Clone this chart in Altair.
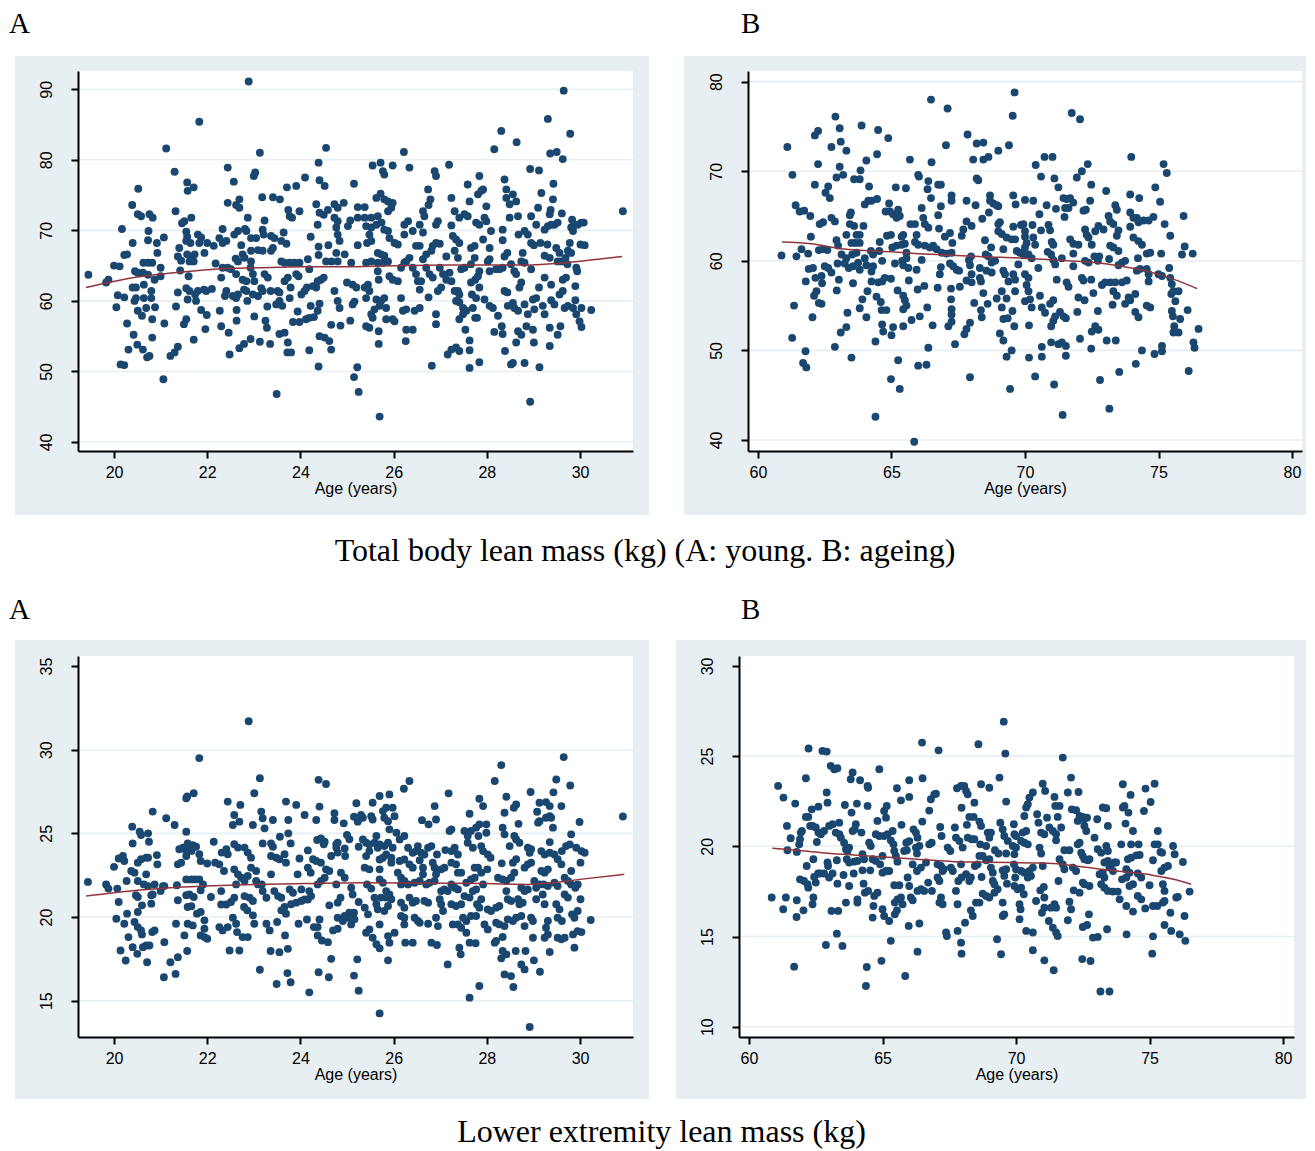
import altair as alt
import pandas as pd

# ---------------- data ----------------
young_total = [
(19.45,63.7),(19.83,62.6),(19.88,63.0),(20.0,65.0),(20.12,64.9),(20.05,59.1),(20.08,60.8),(20.22,60.5),(20.17,70.2),(20.22,66.5),(20.28,66.6),(20.14,51.0),(20.22,50.9),(20.28,56.8),(20.31,53.1),(20.39,73.6),(20.4,68.2),(20.4,61.9),(20.47,61.9),(20.42,55.2),(20.45,64.2),(20.51,64.0),(20.62,64.0),(20.44,60.0),(20.47,60.4),(20.5,53.8),(20.52,75.9),(20.51,72.3),(20.58,72.0),(20.51,58.6),(20.6,57.9),(20.62,53.1),(20.63,65.4),(20.73,65.4),(20.82,65.4),(20.64,62.3),(20.73,63.7),(20.64,60.4),(20.8,60.4),(20.69,59.0),(20.71,52.0),(20.76,52.2),(20.74,69.9),(20.73,68.6),(20.76,72.3),(20.83,71.8),(20.8,61.4),(20.82,57.4),(20.82,54.8),(20.87,63.0),(20.88,59.1),(20.92,68.2),(20.93,66.8),(21.0,64.7),(21.0,63.5),(21.07,69.0),(21.08,56.8),(21.06,48.9),(21.12,81.6),(21.21,52.2),(21.3,52.7),(21.37,53.5),(21.3,78.3),(21.32,72.7),(21.37,61.2),(21.33,59.2),(21.37,66.3),(21.44,65.7),(21.42,64.3),(21.46,71.0),(21.51,71.3),(21.4,67.5),(21.5,56.7),(21.55,57.4),(21.55,69.8),(21.57,69.1),(21.57,76.8),(21.58,75.6),(21.55,68.5),(21.64,68.2),(21.57,66.6),(21.66,66.1),(21.62,65.6),(21.6,63.5),(21.55,61.8),(21.62,61.4),(21.58,60.2),(21.71,76.1),(21.66,71.8),(21.73,66.6),(21.71,65.6),(21.71,54.5),(21.74,60.9),(21.8,61.4),(21.76,60.0),(21.83,85.4),(21.8,69.4),(21.87,69.0),(21.83,68.2),(21.87,58.7),(21.93,61.6),(21.98,61.4),(21.94,66.8),(21.96,56.0),(22.0,68.2),(21.99,58.0),(22.1,61.7),(22.14,67.8),(22.18,65.3),(22.26,68.9),(22.33,68.2),(22.41,68.5),(22.27,58.6),(22.3,56.4),(22.3,63.3),(22.33,64.7),(22.33,70.2),(22.38,60.7),(22.41,61.4),(22.44,78.9),(22.44,73.9),(22.44,64.7),(22.51,64.5),(22.46,55.5),(22.48,52.4),(22.57,76.9),(22.55,60.7),(22.62,60.4),(22.66,60.9),(22.58,69.4),(22.66,69.9),(22.61,66.0),(22.66,65.6),(22.62,63.8),(22.63,58.7),(22.63,57.2),(22.62,73.6),(22.69,73.2),(22.69,74.4),(22.69,53.3),(22.79,53.9),(22.73,67.9),(22.76,66.6),(22.8,66.1),(22.76,63.0),(22.84,62.8),(22.79,61.6),(22.84,61.4),(22.81,70.2),(22.84,69.9),(22.86,60.0),(22.87,71.8),(22.89,91.1),(22.93,54.6),(22.94,68.9),(23.05,68.9),(22.94,65.6),(22.93,64.7),(22.98,63.8),(23.01,62.8),(23.0,77.7),(23.03,78.2),(23.01,57.8),(22.98,60.9),(23.09,60.7),(22.94,67.1),(23.09,67.2),(23.19,67.1),(23.13,81.0),(23.13,54.2),(23.16,61.8),(23.19,61.4),(23.18,74.7),(23.19,70.1),(23.21,69.4),(23.23,71.4),(23.23,63.8),(23.3,63.3),(23.29,59.2),(23.25,57.2),(23.28,56.2),(23.35,53.9),(23.36,61.4),(23.37,69.2),(23.44,68.9),(23.37,67.1),(23.41,67.5),(23.41,74.7),(23.56,74.4),(23.48,59.5),(23.55,60.0),(23.61,59.3),(23.49,46.8),(23.51,61.4),(23.55,61.2),(23.55,55.3),(23.66,55.5),(23.59,65.6),(23.66,65.4),(23.77,65.4),(23.64,69.7),(23.59,68.5),(23.7,68.1),(23.66,62.8),(23.73,63.3),(23.73,54.1),(23.72,52.7),(23.8,52.7),(23.71,76.1),(23.74,72.9),(23.77,72.0),(23.82,71.8),(23.79,61.9),(23.77,60.4),(23.84,57.0),(23.98,57.0),(23.87,65.4),(23.98,65.4),(23.91,76.3),(23.91,63.8),(23.96,63.5),(23.94,58.5),(23.98,72.7),(24.02,60.9),(24.09,61.4),(24.14,61.9),(24.1,77.5),(24.12,57.4),(24.19,57.6),(24.29,57.7),(24.16,65.9),(24.19,64.5),(24.19,53.0),(24.22,69.1),(24.22,59.3),(24.27,62.1),(24.34,61.9),(24.37,62.8),(24.34,73.7),(24.41,72.5),(24.5,72.2),(24.37,70.8),(24.39,79.6),(24.41,77.1),(24.52,76.3),(24.39,67.7),(24.39,66.5),(24.41,59.6),(24.37,58.6),(24.39,50.7),(24.41,55.0),(24.52,54.8),(24.62,54.3),(24.44,63.0),(24.5,63.3),(24.55,81.7),(24.55,65.6),(24.67,65.6),(24.8,65.6),(24.6,67.9),(24.59,72.9),(24.73,73.7),(24.8,73.2),(24.66,53.1),(24.66,56.6),(24.86,56.5),(24.73,71.8),(24.8,71.3),(24.77,70.4),(24.8,69.4),(24.84,68.5),(24.73,61.4),(24.8,60.0),(24.84,59.0),(24.77,66.8),(24.95,66.6),(24.93,73.9),(25.02,70.6),(25.07,71.4),(25.09,65.4),(25.07,57.2),(25.0,62.6),(25.12,62.3),(25.15,76.6),(25.16,59.9),(25.12,59.5),(25.15,49.2),(25.22,50.6),(25.25,47.1),(25.23,73.3),(25.23,71.8),(25.23,67.9),(25.2,61.9),
(25.38,73.3),(25.41,70.6),(25.52,70.4),(25.48,69.4),(25.43,68.2),(25.52,68.5),(25.38,71.8),(25.52,71.8),(25.66,72.0),(25.41,65.4),(25.52,65.6),(25.66,66.8),(25.73,66.6),(25.8,66.4),(25.45,62.3),(25.38,61.9),(25.48,61.4),(25.41,60.4),(25.41,56.4),(25.48,56.2),(25.52,58.1),(25.59,58.8),(25.55,57.6),(25.55,79.2),(25.72,79.6),(25.77,78.4),(25.8,77.9),(25.63,74.6),(25.72,75.2),(25.8,74.4),(25.88,74.1),(25.63,70.8),(25.74,71.1),(25.8,70.1),(25.88,69.9),(25.66,65.4),(25.77,65.4),(25.88,65.6),(25.66,64.2),(25.68,63.0),(25.63,60.2),(25.73,60.0),(25.8,60.4),(25.84,59.0),(25.7,59.3),(25.68,55.7),(25.68,53.9),(25.7,43.6),(25.84,57.4),(25.98,57.4),(25.88,72.7),(25.95,73.2),(25.98,73.9),(25.91,68.9),(26.02,68.2),(26.09,68.0),(25.91,63.5),(25.98,63.0),(26.09,62.8),(25.98,79.2),(26.02,57.1),(26.16,64.7),(26.23,65.4),(26.16,60.4),(26.2,58.6),(26.27,58.8),(26.22,81.1),(26.23,70.8),(26.31,71.3),(26.23,69.4),(26.27,65.6),(26.34,66.1),(26.26,54.3),(26.34,78.9),(26.27,55.9),(26.41,55.9),(26.41,69.9),(26.48,67.8),(26.56,67.8),(26.41,64.7),(26.48,63.8),(26.52,62.8),(26.45,58.6),(26.56,59.0),(26.56,70.8),(26.63,69.7),(26.56,61.6),(26.59,62.8),(26.63,72.7),(26.66,72.0),(26.63,65.9),(26.7,66.6),(26.81,67.1),(26.7,64.7),(26.77,63.8),(26.84,63.3),(26.74,75.8),(26.79,74.4),(26.75,73.6),(26.75,60.5),(26.82,50.8),(26.84,67.8),(26.91,68.2),(26.99,68.1),(26.88,78.4),(26.91,77.7),(26.91,70.8),(26.95,71.3),(26.91,58.1),(26.91,56.7),(26.95,61.4),(27.02,61.9),(26.99,64.7),(27.06,63.8),(27.13,63.0),(27.13,66.3),(27.16,52.4),(27.19,79.3),(27.2,64.0),(27.24,62.8),(27.24,74.6),(27.24,70.7),(27.27,69.2),(27.34,68.7),(27.41,68.2),(27.31,72.7),(27.31,67.1),(27.38,66.1),(27.31,61.4),(27.38,61.4),(27.41,60.9),(27.34,60.0),(27.41,59.8),(27.24,53.1),(27.34,53.4),(27.41,52.9),(27.41,71.8),(27.52,72.3),(27.59,72.0),(27.45,64.5),(27.52,64.7),(27.41,57.4),(27.49,58.1),(27.49,59.0),(27.56,58.6),(27.54,55.9),(27.59,76.5),(27.63,74.1),(27.63,54.4),(27.63,53.0),(27.63,50.5),(27.66,67.5),(27.74,67.8),(27.66,65.2),(27.74,66.1),(27.66,62.6),(27.75,63.0),(27.68,60.9),(27.77,60.4),(27.7,59.0),(27.75,57.6),(27.79,57.6),(27.77,71.1),(27.84,70.8),(27.81,75.1),(27.88,75.6),(27.92,75.8),(27.84,77.7),(27.84,51.3),(27.84,64.2),(27.81,63.5),(27.84,61.9),(27.92,68.7),(27.95,71.8),(27.99,71.3),(27.95,60.2),(28.06,59.3),(28.13,59.0),(27.99,73.4),(28.02,65.6),(28.06,65.9),(28.06,67.5),(28.06,64.2),(28.09,69.9),(28.16,55.6),(28.16,81.5),(28.2,64.5),(28.27,64.5),(28.24,57.9),(28.31,84.1),(28.32,56.4),(28.34,70.1),(28.34,68.6),(28.34,64.7),(28.34,55.3),(28.38,77.2),(28.38,66.3),(28.44,66.8),(28.38,61.4),(28.44,61.2),(28.39,52.9),(28.42,74.6),(28.42,75.8),(28.45,59.3),(28.56,59.7),(28.49,71.8),(28.49,73.7),(28.56,75.1),(28.63,74.1),(28.52,51.0),(28.56,51.2),(28.52,65.2),(28.59,64.2),(28.63,63.8),(28.59,59.0),(28.67,58.6),(28.63,54.1),(28.64,82.5),(28.67,72.0),(28.67,55.7),(28.74,55.2),(28.68,69.4),(28.7,61.9),(28.74,62.6),(28.74,65.6),(28.81,65.4),(28.77,66.8),(28.81,69.9),(28.88,69.4),(28.81,51.2),(28.81,59.5),(28.85,56.4),(28.99,55.9),(28.88,58.1),(28.93,45.7),(28.93,78.7),(29.12,78.5),(28.95,72.0),(28.95,68.2),(29.01,67.9),(28.95,64.5),(28.99,60.2),(29.06,60.4),(29.01,54.1),(29.02,58.8),(29.06,70.8),(29.1,73.2),(29.12,61.9),(29.13,50.6),(29.15,68.2),(29.17,75.3),(29.2,59.3),(29.24,58.1),(29.24,63.3),(29.24,66.4),(29.35,66.1),(29.24,70.1),(29.31,70.6),(29.38,70.8),(29.3,68.0),(29.31,85.8),(29.35,72.3),(29.37,72.9),(29.35,56.2),(29.35,53.6),(29.36,80.9),(29.5,81.1),(29.38,60.1),(29.45,59.5),(29.38,62.3),(29.42,74.4),(29.43,76.6),(29.45,70.8),(29.52,71.1),(29.49,67.5),(29.56,66.8),(29.52,55.2),(29.52,65.6),(29.6,65.6),(29.56,60.9),(29.63,61.4),(29.58,56.4),(29.61,72.4),(29.63,80.1),(29.65,89.8),(29.63,63.0),(29.7,63.3),(29.67,59.0),(29.74,59.3),(29.69,66.1),(29.74,67.1),(29.73,65.2),(29.78,68.2),(29.79,83.7),(29.81,70.4),(29.85,69.9),(29.87,70.8),(29.83,71.5),(29.81,66.8),(29.85,59.0),(29.92,58.1),(29.99,57.1),(30.03,56.3),(29.9,62.1),(29.9,60.1),(29.92,64.7),(29.94,64.2),(29.95,70.8),(30.01,68.0),(30.1,67.9),(30.03,59.0),(30.03,71.1),(30.08,71.1),(30.24,58.7),(30.92,72.7),
]
young_total_fit = [(19.4,61.9),(19.8,62.5),(20.5,63.4),(21.3,64.0),(22.15,64.5),(23.1,64.7),(24.1,64.85),(25.1,64.85),(26.2,65.0),(27.2,65.1),(28.1,65.1),(28.95,65.1),(29.5,65.3),(29.95,65.6),(30.9,66.3)]

ageing_total = [
(60.88,60.6),(61.1,72.7),(61.29,69.6),(61.28,51.4),(61.35,55.0),(61.41,66.2),(61.44,60.5),(61.56,65.5),(61.73,65.6),(61.63,61.3),(61.78,49.9),(61.69,48.6),(61.81,48.1),(61.79,57.7),(61.88,60.8),(61.9,59.1),(62.06,59.2),(61.96,65.0),(61.98,62.7),(62.04,53.7),(62.1,56.1),(62.13,68.5),(62.13,74.0),(62.25,74.5),(62.19,56.6),(62.15,58.1),(62.38,58.3),(62.25,70.8),(62.28,61.2),(62.44,61.3),(62.6,61.2),(62.28,55.3),(62.38,55.2),(62.31,64.1),(62.44,64.3),(62.4,57.5),(62.5,59.4),(62.63,59.2),(62.75,58.7),(62.53,67.6),(62.63,68.3),(62.69,67.0),(62.75,72.7),(62.75,64.8),(62.88,64.4),(62.9,76.1),(62.88,50.4),(62.94,62.3),(63.0,61.7),(62.95,56.7),(62.98,59.7),(62.94,69.3),(63.03,57.9),(63.06,74.8),(63.1,73.3),(63.06,70.5),(63.13,60.7),(63.31,60.3),(63.19,69.6),(63.1,52.0),(63.31,52.6),(63.25,59.7),(63.4,59.2),(63.56,59.4),(63.31,72.3),(63.35,54.2),(63.31,62.9),(63.5,62.0),(63.65,62.0),(63.81,62.0),(63.44,65.1),(63.48,65.4),(63.44,64.1),(63.6,63.9),(63.5,49.2),(63.53,60.7),(63.69,60.9),(63.6,69.1),(63.81,69.1),(63.56,57.5),(63.69,62.9),(63.81,62.9),(63.75,59.8),(63.81,59.0),(63.81,54.7),(63.84,70.1),(63.88,75.1),(63.91,55.7),(63.95,63.9),(64.0,60.3),(64.06,59.5),(64.06,53.7),(64.06,71.2),(64.0,66.3),(64.13,66.7),(64.25,66.7),(64.1,56.6),(64.16,68.3),(64.23,61.1),(64.31,60.7),(64.25,58.8),(64.25,57.7),(64.31,59.4),(64.4,51.0),(64.4,42.6),(64.44,56.0),(64.6,55.4),(64.46,71.9),(64.5,74.6),(64.46,66.9),(64.56,62.1),(64.5,57.6),(64.65,57.7),(64.54,61.1),(64.65,60.0),(64.65,52.9),(64.69,52.1),(64.63,54.5),(64.81,54.5),(64.75,58.1),(64.78,65.5),(64.94,65.5),(65.06,65.2),(65.19,64.8),(64.83,62.8),(64.98,62.9),(64.88,73.7),(64.91,66.4),(64.98,46.8),(64.98,58.0),(65.03,61.5),(65.19,61.7),(65.0,51.7),(65.06,52.6),(65.13,59.7),(65.16,68.2),(65.25,65.7),(65.31,65.0),(65.23,56.7),(65.25,48.9),(65.31,45.7),(65.38,62.7),(65.44,62.9),(65.38,61.8),(65.5,61.9),(65.4,60.0),(65.44,59.5),(65.44,56.1),(65.5,55.6),(65.44,54.6),(65.56,55.0),(65.44,52.7),(65.54,68.1),(65.56,60.9),(65.56,60.3),(65.63,59.2),(65.65,57.8),(65.69,71.3),(65.71,64.1),(65.88,64.1),(65.75,53.4),(65.85,39.8),(65.88,62.1),(66.0,61.8),(65.94,62.9),(65.94,59.0),(65.98,56.8),(66.0,69.6),(66.03,69.4),(66.0,48.3),(66.06,53.8),(66.13,65.9),(66.13,60.1),(66.19,64.8),(66.23,57.2),(66.25,64.1),(66.38,63.7),(66.25,61.7),(66.44,61.5),(66.31,48.4),(66.34,54.8),(66.35,68.0),(66.38,68.9),(66.38,50.3),(66.48,78.0),(66.48,67.0),(66.5,71.0),(66.54,52.8),(66.56,61.7),(66.69,61.3),(66.73,57.0),(66.75,68.5),(66.85,68.5),(66.75,65.1),(66.78,63.6),(66.81,58.5),(66.85,59.3),(66.85,66.1),(66.88,60.9),(67.06,60.8),(67.25,60.9),(67.0,62.7),(67.19,63.1),(67.04,72.9),(67.1,77.0),(67.13,52.7),(67.19,59.7),(67.31,59.4),(67.23,56.9),(67.25,67.3),(67.25,66.7),(67.25,54.6),(67.25,54.0),(67.23,55.7),(67.25,53.2),(67.28,62.0),(67.38,50.7),(67.44,59.0),(67.53,58.9),(67.56,57.1),(67.63,62.8),(67.69,63.5),(67.81,64.4),(67.73,51.8),(67.81,52.4),(67.81,66.7),(67.81,57.8),(67.85,74.1),(67.9,60.1),(67.94,59.5),(67.94,53.1),(67.94,47.0),(67.98,60.5),(68.0,58.5),(68.0,57.6),(68.0,63.9),(68.06,71.3),(68.1,55.3),(68.15,66.2),(68.19,73.1),(68.44,73.2),(68.19,69.2),(68.25,69.0),(68.31,59.2),(68.31,58.1),(68.35,57.7),(68.35,54.5),(68.38,53.7),(68.4,64.7),(68.44,71.3),(68.63,71.6),(68.44,56.4),(68.5,62.3),(68.53,60.7),(68.63,60.5),(68.56,58.9),(68.75,58.7),(68.6,55.2),(68.65,65.4),(68.69,67.3),(68.69,66.7),(68.81,66.4),(68.73,61.5),(68.75,59.8),(68.88,60.0),(68.94,55.8),(69.13,56.6),(68.94,66.2),(69.0,66.1),(69.0,72.3),(69.0,64.1),(69.06,64.3),(69.0,63.3),(69.13,63.0),(69.06,51.9),(69.19,51.1),(69.13,54.8),(69.19,53.5),(69.19,58.9),(69.25,58.5),(69.38,57.7),(69.19,61.3),(69.31,62.6),(69.31,55.8),(69.31,49.3),(69.35,53.6),(69.4,72.9),(69.44,45.7),(69.5,62.4),(69.63,62.4),(69.5,50.0),(69.53,54.4),(69.56,58.5),(69.63,57.9),(69.56,67.3),(69.54,76.2),(69.61,78.8),(69.6,52.7),(69.63,56.6),(69.65,66.3),(69.56,63.8),(69.69,61.1),(69.81,60.9),(69.75,59.6),(69.85,64.0),
(70.0,66.8),(70.31,66.7),(69.94,64.1),(70.0,63.3),(70.0,62.7),(70.06,62.0),(70.0,61.5),(69.94,60.7),(70.13,60.7),(70.25,60.3),(70.0,58.5),(70.13,58.1),(70.06,57.3),(70.13,56.6),(70.0,55.5),(70.19,55.7),(70.25,54.8),(70.15,52.8),(70.15,49.2),(70.28,64.0),(70.31,62.6),(70.38,61.8),(70.38,47.1),(70.4,70.7),(70.5,59.2),(70.54,65.2),(70.56,56.1),(70.6,63.4),(70.6,69.4),(70.63,54.8),(70.75,54.2),(70.63,50.4),(70.63,49.3),(70.73,71.6),(71.03,71.6),(70.81,66.2),(70.85,61.0),(70.98,60.7),(70.88,64.0),(70.94,63.4),(70.94,55.2),(71.06,55.6),(70.98,52.7),(71.06,53.3),(71.13,53.8),(71.0,62.1),(71.06,61.8),(70.98,50.9),(71.06,60.1),(71.13,59.6),(71.09,46.2),(71.1,69.2),(71.16,65.8),(71.19,57.9),(71.25,68.2),(71.25,50.7),(71.38,50.9),(71.53,50.5),(71.31,54.3),(71.44,53.8),(71.53,53.6),(71.38,60.3),(71.41,42.8),(71.44,67.0),(71.56,66.9),(71.69,67.0),(71.81,66.5),(71.5,65.9),(71.63,65.9),(71.48,64.9),(71.53,49.4),(71.56,57.6),(71.63,57.1),(71.69,62.4),(71.81,61.9),(72.0,61.8),(71.75,76.5),(71.81,60.8),(71.81,59.4),(71.94,69.3),(71.96,54.3),(72.0,55.9),(72.23,55.6),(72.06,75.8),(72.06,51.3),(72.13,70.0),(72.13,58.1),(72.19,57.8),(72.19,65.6),(72.28,65.7),(72.25,63.5),(72.31,62.9),(72.38,62.6),(72.5,61.8),(72.25,60.0),(72.38,59.8),(72.35,70.8),(72.44,66.7),(72.48,68.5),(72.48,57.9),(72.48,50.2),(72.56,56.4),(72.5,52.1),(72.63,52.7),(72.75,52.3),(72.6,60.5),(72.78,60.5),(72.73,60.0),(72.63,63.3),(72.75,63.9),(72.94,63.5),(72.73,54.4),(72.81,46.7),(72.88,57.3),(73.0,57.6),(73.19,57.6),(73.38,57.6),(73.04,67.8),(73.06,51.1),(73.4,51.1),(73.13,65.0),(73.19,64.4),(73.31,64.1),(73.16,43.5),(73.19,61.7),(73.31,61.5),(73.5,61.1),(73.15,60.2),(73.31,56.6),(73.44,56.1),(73.28,55.1),(73.38,66.2),(73.44,65.7),(73.44,62.8),(73.5,63.4),(73.5,59.5),(73.63,59.8),(73.75,60.0),(73.53,47.6),(73.63,57.6),(73.81,57.8),(73.75,55.2),(73.94,55.6),(73.88,55.9),(73.94,67.4),(73.94,65.4),(74.06,64.8),(74.19,64.8),(74.25,64.3),(74.44,64.5),(73.94,63.8),(73.98,71.6),(74.06,62.6),(74.25,62.2),(74.38,61.8),(74.13,56.3),(74.13,54.3),(74.15,48.5),(74.19,58.9),(74.31,59.1),(74.23,60.3),(74.25,53.7),(74.28,67.0),(74.38,50.0),(74.56,60.8),(74.69,60.9),(74.56,55.0),(74.69,54.8),(74.56,59.1),(74.63,58.5),(74.63,57.7),(74.63,64.5),(74.81,64.9),(74.85,49.6),(74.88,68.2),(75.0,58.5),(75.13,58.3),(75.06,66.6),(75.1,60.8),(75.13,50.5),(75.13,49.9),(75.19,70.8),(75.23,64.1),(75.31,69.8),(75.4,59.2),(75.44,62.8),(75.44,58.1),(75.5,57.4),(75.48,56.3),(75.5,54.4),(75.54,53.8),(75.56,56.6),(75.63,55.5),(75.59,52.7),(75.56,52.0),(75.75,52.0),(75.75,56.6),(75.81,53.5),(75.88,60.7),(75.98,61.6),(75.94,65.0),(76.09,54.5),(76.13,47.7),(76.28,60.8),(76.31,50.9),(76.35,50.3),(76.5,52.4),
]
ageing_total_fit = [(60.9,62.1),(62.0,61.9),(63.1,61.35),(64.0,61.15),(65.0,61.0),(66.0,60.8),(67.0,60.65),(68.5,60.45),(69.9,60.3),(70.7,60.17),(71.6,60.0),(72.6,59.8),(73.6,59.4),(74.5,58.9),(75.1,58.4),(75.6,57.9),(76.45,56.9)]

young_lower = [
(19.44,22.1),(19.83,21.95),(19.88,21.7),(20.0,23.0),(20.05,19.9),(20.07,21.7),(20.1,20.9),(20.1,23.5),(20.19,23.65),(20.14,18.0),(20.22,23.35),(20.22,19.6),(20.25,17.4),(20.27,22.15),(20.28,20.2),(20.31,18.8),(20.37,22.75),(20.44,22.65),(20.39,25.4),(20.4,24.4),(20.4,18.2),(20.44,19.7),(20.51,19.4),(20.58,19.2),(20.47,21.3),(20.51,21.2),(20.5,17.8),(20.51,22.15),(20.51,23.25),(20.58,23.45),(20.69,23.55),(20.73,23.55),(20.51,20.3),(20.55,25.1),(20.58,24.9),(20.62,18.2),(20.69,18.3),(20.76,18.3),(20.64,21.95),(20.73,21.85),(20.6,20.7),(20.6,18.96),(20.69,22.55),(20.71,17.3),(20.73,25.0),(20.75,24.5),(20.8,21.3),(20.83,21.35),(20.8,20.8),(20.82,19.1),(20.87,19.2),(20.83,26.3),(20.87,21.95),(20.92,23.7),(20.93,23.15),(21.0,21.55),(21.05,21.85),(21.08,21.85),(21.07,16.4),(21.08,18.5),(21.12,25.9),(21.21,17.3),(21.3,25.5),(21.32,16.6),(21.33,19.6),(21.35,21.9),(21.37,21.0),(21.37,17.6),(21.37,23.15),(21.44,23.25),(21.4,24.05),(21.48,24.15),(21.55,23.95),(21.51,18.9),(21.55,25.1),(21.55,23.65),(21.57,17.97),(21.55,22.25),(21.66,22.25),(21.74,22.25),(21.83,22.25),(21.55,27.1),(21.57,27.2),(21.55,21.3),(21.62,21.35),(21.71,21.2),(21.58,20.6),(21.66,20.65),(21.58,24.4),(21.69,24.3),(21.76,24.2),(21.58,19.6),(21.69,19.5),(21.62,24.1),(21.66,23.95),(21.71,27.4),(21.83,29.5),(21.78,20.2),(21.86,20.3),(21.83,23.75),(21.86,23.35),(21.86,21.6),(21.86,18.9),(21.94,18.8),(22.0,18.7),(21.91,21.95),(21.94,19.8),(21.94,19.3),(22.0,23.2),(22.08,21.2),(22.14,24.5),(22.17,23.25),(22.26,23.15),(22.26,19.4),(22.33,19.2),(22.44,19.4),(22.3,21.55),(22.3,20.75),(22.41,20.75),(22.31,23.85),(22.41,24.05),(22.44,23.75),(22.36,22.75),(22.44,26.9),(22.48,18.0),(22.69,18.0),(22.51,20.9),(22.58,21.15),(22.55,19.96),(22.62,19.6),(22.64,19.1),(22.55,25.5),(22.58,26.1),(22.69,25.7),(22.58,24.35),(22.66,24.15),(22.58,22.85),(22.66,22.55),(22.62,21.95),(22.71,26.7),(22.73,22.35),(22.8,22.15),(22.87,22.45),(22.76,18.8),(22.87,18.8),(22.79,20.6),(22.86,20.4),(22.8,24.15),(22.87,23.85),(22.94,23.55),(22.8,21.25),(22.91,21.15),(22.89,31.7),(22.94,22.95),(23.05,22.75),(22.98,25.5),(22.98,20.1),(23.01,19.6),(22.98,20.96),(23.01,27.4),(23.05,22.15),(23.09,21.95),(23.13,28.3),(23.13,16.85),(23.16,26.3),(23.19,25.9),(23.17,21.95),(23.19,21.55),(23.27,21.15),(23.19,24.4),(23.23,25.3),(23.27,19.6),(23.34,19.2),(23.36,17.97),(23.37,24.4),(23.41,24.2),(23.37,23.65),(23.48,23.55),(23.55,23.45),(23.37,22.55),(23.41,25.8),(23.44,21.55),(23.52,21.25),(23.59,21.15),(23.5,19.7),(23.49,16.0),(23.55,17.9),(23.56,24.8),(23.59,20.4),(23.66,20.6),(23.69,20.2),(23.66,23.75),(23.69,23.25),(23.67,18.9),(23.69,26.9),(23.72,16.65),(23.73,18.1),(23.74,25.8),(23.74,25.0),(23.77,21.65),(23.84,21.45),(23.79,24.4),(23.79,16.1),(23.8,20.76),(23.91,26.7),(23.91,20.86),(24.02,20.96),(24.09,21.05),(24.16,21.05),(24.23,21.25),(23.94,22.55),(23.96,19.6),(23.98,23.5),(24.02,21.65),(24.09,26.1),(24.14,19.85),(24.16,23.98),(24.19,15.5),(24.19,21.55),(24.16,22.95),(24.22,22.65),(24.27,23.45),(24.34,23.35),(24.29,19.4),(24.34,25.8),(24.36,24.6),(24.44,24.7),(24.52,24.5),(24.37,18.9),(24.37,21.95),(24.44,22.15),(24.52,22.35),(24.39,16.7),(24.39,28.2),(24.55,27.95),(24.41,26.6),(24.41,19.85),(24.37,19.4),(24.44,23.25),(24.55,22.85),(24.62,22.75),(24.46,18.6),(24.59,18.5),(24.5,24.35),(24.61,16.4),(24.62,20.7),(24.66,17.5),(24.66,23.65),(24.77,24.15),(24.8,23.85),(24.7,19.2),(24.8,19.3),(24.73,26.2),(24.73,25.8),(24.77,21.95),(24.77,24.35),(24.8,24.45),(24.8,20.86),(24.86,21.15),(24.8,19.96),(24.91,19.76),(24.95,20.06),(25.02,19.96),(24.87,22.65),(24.95,22.35),(24.93,25.6),(24.95,24.1),(24.96,23.65),(25.0,24.9),(25.05,24.65),(25.05,20.26),(25.15,20.26),(25.09,21.75),(25.12,21.35),(25.09,19.56),(25.16,19.86),(25.15,26.0),(25.15,16.5),(25.2,26.8),(25.22,17.47),(25.23,25.7),(25.25,24.2),(25.25,15.6),(25.25,20.9),
(25.34,24.64),(25.41,24.44),(25.48,24.34),(25.59,24.44),(25.66,24.14),(25.41,23.64),(25.48,23.94),(25.38,22.95),(25.48,22.85),(25.43,21.95),(25.52,21.7),(25.38,20.56),(25.45,20.16),(25.41,19.06),(25.48,19.26),(25.55,18.76),(25.63,18.37),(25.7,18.13),(25.55,26.83),(25.52,26.03),(25.55,25.83),(25.34,25.93),(25.3,26.1),(25.63,24.84),(25.7,24.34),(25.59,21.16),(25.63,20.76),(25.66,20.46),(25.7,23.44),(25.77,23.54),(25.7,22.85),(25.7,14.24),(25.7,27.23),(25.7,22.25),(25.77,22.05),(25.7,19.56),(25.73,21.16),(25.84,21.16),(25.95,21.06),(25.77,26.33),(25.84,26.53),(25.91,27.33),(25.8,25.93),(25.88,25.73),(25.91,25.24),(25.8,24.24),(25.88,24.44),(25.98,24.14),(25.84,23.74),(25.95,23.54),(25.95,23.25),(25.84,21.55),(25.91,21.35),(25.8,20.36),(25.88,20.66),(25.88,18.86),(25.91,18.47),(25.88,17.41),(25.98,26.53),(26.02,26.03),(26.02,19.06),(26.06,25.04),(26.13,24.64),(26.23,24.84),(26.09,22.65),(26.16,22.35),(26.23,22.15),(26.13,23.35),(26.23,23.44),(26.16,21.95),(26.31,21.95),(26.16,20.86),(26.23,20.56),(26.16,20.06),(26.23,19.96),(26.22,27.67),(26.23,19.56),(26.25,18.47),(26.41,18.47),(26.34,28.13),(26.31,24.14),(26.41,23.84),(26.48,23.94),(26.34,23.15),(26.41,22.95),(26.34,21.16),(26.41,20.86),(26.48,20.96),(26.45,22.05),(26.56,22.15),(26.45,19.96),(26.52,19.76),(26.56,19.66),(26.52,24.24),(26.59,23.84),(26.66,23.74),(26.56,23.39),(26.63,22.95),(26.61,25.79),(26.63,22.55),(26.66,20.96),(26.74,20.86),(26.7,21.95),(26.77,22.05),(26.74,24.14),(26.81,24.24),(26.75,25.54),(26.74,19.6),(26.81,18.47),(26.93,18.33),(26.84,23.25),(26.88,22.95),(26.91,22.55),(26.88,26.63),(26.88,22.15),(26.91,25.83),(26.91,19.96),(26.95,19.46),(26.93,23.74),(26.99,21.06),(27.02,20.76),(27.06,20.36),(27.02,22.85),(27.09,22.95),(27.02,21.55),(27.09,21.65),(27.16,21.55),(27.11,24.0),(27.16,17.17),(27.18,27.39),(27.2,25.14),(27.24,25.24),(27.24,23.25),(27.34,23.15),(27.24,23.94),(27.31,24.14),(27.38,23.74),(27.24,21.95),(27.31,21.75),(27.38,21.65),(27.24,20.76),(27.34,20.66),(27.45,20.76),(27.27,19.56),(27.38,19.56),(27.45,19.36),(27.41,18.17),(27.44,17.77),(27.38,22.65),(27.45,22.65),(27.49,19.96),(27.56,19.76),(27.56,19.06),(27.52,25.14),(27.59,24.84),(27.59,24.44),(27.52,21.25),(27.63,21.16),(27.56,22.05),(27.66,22.25),(27.74,22.35),(27.63,26.17),(27.63,15.18),(27.63,18.47),(27.76,18.43),(27.66,25.14),(27.7,24.14),(27.66,20.06),(27.77,20.06),(27.7,21.55),(27.77,21.65),(27.74,22.95),(27.81,22.95),(27.88,22.65),(27.77,25.34),(27.84,25.54),(27.82,24.84),(27.79,20.76),(27.84,20.56),(27.84,15.88),(27.84,27.07),(27.92,26.63),(27.88,24.24),(27.92,23.94),(27.92,21.95),(27.88,21.06),(27.95,19.56),(27.99,25.54),(27.99,25.04),(28.01,22.85),(28.02,23.74),(28.08,23.54),(28.02,20.46),(28.09,20.36),(28.2,20.56),(28.27,20.66),(28.02,19.26),(28.17,18.47),(28.2,18.57),(28.17,28.13),(28.2,19.66),(28.27,19.56),(28.38,19.46),(28.24,22.35),(28.34,22.25),(28.42,22.15),(28.31,29.08),(28.32,23.21),(28.34,25.34),(28.38,24.94),(28.34,18.81),(28.34,17.97),(28.42,17.77),(28.31,17.53),(28.38,16.57),(28.52,16.47),(28.38,26.23),(28.42,21.55),(28.45,21.06),(28.52,20.96),(28.42,27.19),(28.45,19.86),(28.56,19.76),(28.63,19.96),(28.74,20.06),(28.49,24.24),(28.52,22.35),(28.59,22.65),(28.57,15.82),(28.56,23.25),(28.63,23.45),(28.58,26.53),(28.63,26.73),(28.59,24.84),(28.63,24.64),(28.7,24.44),(28.62,17.97),(28.67,21.06),(28.7,20.76),(28.77,20.86),(28.68,25.57),(28.74,21.75),(28.81,21.55),(28.88,21.65),(28.74,17.17),(28.81,16.87),(28.81,19.46),(28.81,22.95),(28.88,23.15),(28.95,23.25),(28.83,17.97),(28.88,24.14),(28.95,24.05),(28.92,23.84),(28.92,13.43),(28.94,27.47),(28.95,19.96),(28.99,19.76),(28.99,18.76),(29.01,17.41),(29.02,22.15),(29.06,21.75),(29.13,21.95),(29.06,21.06),(29.08,26.29),(29.1,25.64),(29.13,25.73),(29.13,26.83),(29.14,16.73),(29.17,23.94),(29.24,23.74),(29.35,23.84),(29.17,22.75),(29.24,22.65),(29.31,22.85),(29.2,21.35),(29.24,20.76),(29.22,21.95),(29.31,21.85),(29.24,18.76),(29.31,18.96),(29.27,19.36),(29.31,19.76),(29.27,25.93),(29.35,26.03),(29.38,25.93),(29.27,26.87),(29.35,26.63),(29.35,24.48),(29.35,17.91),(29.42,25.34),(29.43,27.45),(29.45,23.74),(29.52,23.45),(29.6,23.15),(29.45,22.05),(29.52,21.85),(29.49,28.22),(29.49,20.76),(29.56,20.46),(29.52,18.76),(29.6,18.67),(29.67,18.76),(29.52,19.96),(29.61,19.76),(29.61,23.94),(29.6,26.63),(29.65,29.56),(29.67,22.35),(29.74,22.15),(29.81,21.95),(29.67,21.35),(29.74,21.16),(29.7,24.24),(29.78,24.34),(29.79,27.86),(29.81,24.94),(29.81,22.75),(29.83,20.16),(29.88,19.96),(29.85,18.96),(29.95,19.16),(30.03,19.1),(29.88,18.17),(29.9,21.75),(29.95,21.95),(29.92,24.14),(30.03,23.94),(29.95,20.36),(29.99,25.68),(30.01,23.25),(30.01,21.06),(30.1,23.84),(30.23,19.82),(30.92,26.01),
]
young_lower_fit = [(19.4,21.25),(20.5,21.6),(21.2,21.75),(21.95,21.85),(23.0,21.95),(24.1,22.0),(25.3,22.05),(26.6,22.03),(28.0,22.0),(28.85,21.95),(29.4,22.05),(30.0,22.25),(30.95,22.55)]

ageing_lower = [
(60.85,17.16),(61.09,23.35),(61.28,16.51),(61.29,22.7),(61.38,17.16),(61.42,21.13),(61.44,19.78),(61.56,20.45),(61.69,13.33),(61.73,22.37),(61.78,16.08),(61.79,17.01),(61.79,19.69),(61.88,20.11),(61.91,20.39),(61.91,18.17),(61.94,20.76),(61.98,20.85),(62.04,16.45),(62.13,23.77),(62.13,21.63),(62.22,21.63),(62.06,18.08),(62.19,17.9),(62.22,17.71),(62.16,18.91),(62.23,25.42),(62.29,21.13),(62.38,21.13),(62.5,21.04),(62.35,22.05),(62.38,16.79),(62.41,17.16),(62.41,19.28),(62.44,18.3),(62.59,18.49),(62.5,17.99),(62.54,20.24),(62.6,20.76),(62.69,20.67),(62.81,20.85),(62.6,22.2),(62.66,18.49),(62.81,18.49),(62.75,25.29),(62.91,25.25),(62.88,14.53),(62.91,22.98),(62.94,22.42),(62.94,19.1),(62.96,18.91),(63.0,21.13),(63.13,21.22),(63.0,18.27),(63.13,18.49),(63.06,24.46),(63.19,24.27),(63.31,24.33),(63.09,16.42),(63.34,16.42),(63.25,20.76),(63.38,20.67),(63.29,19.23),(63.31,17.93),(63.29,15.16),(63.38,21.31),(63.44,20.48),(63.56,20.2),(63.5,14.48),(63.54,18.41),(63.63,16.88),(63.59,22.29),(63.63,19.84),(63.69,19.74),(63.75,19.93),(63.66,19.28),(63.75,19.1),(63.75,17.8),(63.81,23.72),(63.88,24.09),(63.84,21.87),(63.88,20.85),(63.96,20.94),(64.0,21.22),(63.92,18.49),(63.94,19.15),(64.06,19.19),(64.04,22.37),(64.06,17.06),(64.06,16.88),(64.16,23.66),(64.21,20.76),(64.25,19.56),(64.31,19.28),(64.25,18.67),(64.29,17.93),(64.34,17.43),(64.46,17.53),(64.38,12.26),(64.41,13.31),(64.44,23.35),(64.46,23.25),(64.44,22.24),(64.5,20.2),(64.56,20.02),(64.54,18.67),(64.63,19.28),(64.75,19.19),(64.63,16.05),(64.66,16.69),(64.69,17.25),(64.81,17.43),(64.75,20.67),(64.88,20.57),(64.81,21.41),(64.88,24.27),(64.91,19.0),(65.0,19.47),(64.96,13.65),(65.0,16.51),(65.0,18.54),(65.13,18.63),(65.06,21.96),(65.13,21.59),(65.06,16.14),(65.06,20.57),(65.19,20.67),(65.16,22.24),(65.25,18.63),(65.25,15.86),(65.31,14.76),(65.31,20.33),(65.41,20.11),(65.38,20.85),(65.44,19.74),(65.5,19.47),(65.44,17.84),(65.63,17.84),(65.46,16.23),(65.54,16.45),(65.46,16.88),(65.54,23.22),(65.56,17.06),(65.69,17.16),(65.56,19.15),(65.69,22.55),(65.71,21.19),(65.75,16.79),(65.81,19.74),(65.85,12.81),(65.89,20.2),(66.0,20.29),(65.91,19.78),(65.94,18.27),(65.98,15.59),(66.0,17.8),(66.0,23.66),(66.0,22.74),(66.06,17.16),(66.13,17.01),(66.13,19.0),(66.16,20.94),(66.25,20.76),(66.31,20.48),(66.25,19.93),(66.38,20.02),(66.29,19.6),(66.29,18.63),(66.31,17.53),(66.44,17.62),(66.56,17.53),(66.31,14.16),(66.38,15.72),(66.44,18.82),(66.48,25.75),(66.49,21.37),(66.5,23.77),(66.63,19.1),(66.71,17.99),(66.75,21.98),(66.75,20.11),(66.84,20.2),(66.81,22.61),(66.94,22.88),(66.85,17.53),(67.0,22.92),(67.06,19.0),(67.19,18.91),(67.25,18.63),(67.06,18.27),(67.13,18.08),(67.1,25.32),(67.13,16.88),(67.25,16.79),(67.16,21.07),(67.21,20.57),(67.19,17.16),(67.29,18.73),(67.38,15.22),(67.41,15.03),(67.44,19.93),(67.54,19.74),(67.56,18.82),(67.63,18.63),(67.71,21.04),(67.75,20.48),(67.88,20.29),(67.75,17.53),(67.79,23.22),(67.94,23.35),(67.81,16.79),(67.81,15.31),(67.84,18.08),(67.96,18.27),(67.94,19.0),(67.94,14.66),(67.96,14.05),(67.96,22.14),(68.0,19.93),(68.06,23.35),(68.13,23.07),(68.19,22.88),(68.09,15.77),(68.13,18.45),(68.16,21.19),(68.25,21.63),(68.19,20.48),(68.34,20.39),(68.44,20.39),(68.25,18.08),(68.31,18.27),(68.31,16.45),(68.38,16.14),(68.41,21.63),(68.44,22.42),(68.46,18.91),(68.56,19.0),(68.5,16.88),(68.63,16.88),(68.59,25.66),(68.63,19.47),(68.75,19.47),(68.63,21.37),(68.69,21.13),(68.66,20.11),(68.69,23.44),(68.71,18.3),(68.75,17.38),(68.88,17.25),(69.0,17.16),(68.88,20.02),(68.88,19.23),(69.0,19.28),(68.94,20.76),(69.06,20.76),(69.0,20.48),(69.0,23.25),(69.06,18.82),(69.13,18.54),(69.13,18.08),(69.19,17.9),(69.19,17.43),(69.31,17.62),(69.21,19.78),(69.34,19.6),(69.29,14.85),(69.38,23.81),(69.41,21.31),(69.44,14.02),(69.5,20.94),(69.56,20.57),(69.5,18.67),(69.56,18.36),(69.63,18.73),(69.5,16.88),(69.56,16.23),(69.5,16.14),(69.54,26.91),(69.6,25.14),(69.63,22.48),(69.63,19.6),(69.66,17.93),(69.69,20.3),
(69.92,21.22),(69.94,20.67),(70.0,20.57),(69.88,20.02),(70.0,19.93),(69.94,19.56),(69.92,19.0),(70.0,18.73),(69.97,18.27),(69.94,17.8),(70.06,17.62),(70.19,17.71),(70.13,16.79),(70.17,16.51),(70.13,15.96),(70.19,20.3),(70.31,20.2),(70.44,20.11),(70.19,18.63),(70.31,18.54),(70.5,18.63),(70.25,20.76),(70.38,20.85),(70.29,17.34),(70.31,21.68),(70.38,22.15),(70.44,22.33),(70.38,15.31),(70.44,18.27),(70.56,18.36),(70.5,22.7),(70.63,22.98),(70.63,15.22),(70.63,14.24),(70.63,18.82),(70.75,16.97),(70.79,21.78),(70.84,21.31),(70.88,19.93),(70.94,19.6),(70.91,17.56),(71.04,17.75),(70.94,20.76),(71.06,20.67),(70.97,16.32),(71.06,16.6),(71.0,23.47),(71.09,23.07),(71.0,18.91),(71.06,17.16),(71.06,13.68),(71.16,21.59),(71.23,15.86),(71.25,21.04),(71.38,20.85),(71.5,20.67),(71.31,16.6),(71.44,16.79),(71.5,16.6),(71.38,15.49),(71.5,15.22),(71.56,15.03),(71.41,13.13),(71.44,22.74),(71.47,22.24),(71.63,22.24),(71.5,20.33),(71.56,21.63),(71.59,18.08),(71.63,19.28),(71.75,19.0),(71.81,18.73),(71.69,21.04),(71.75,24.92),(71.81,19.78),(72.0,19.78),(71.94,22.98),(71.94,15.9),(72.0,16.93),(72.06,16.51),(72.06,23.81),(72.09,22.05),(72.25,22.0),(72.31,21.41),(72.13,18.82),(72.25,18.63),(72.16,17.56),(72.38,17.43),(72.31,20.11),(72.38,20.2),(72.34,23.01),(72.38,21.68),(72.5,21.63),(72.56,21.13),(72.44,19.65),(72.5,19.47),(72.48,13.75),(72.79,13.64),(72.5,17.99),(72.56,17.9),(72.5,15.53),(72.66,15.64),(72.54,21.5),(72.66,21.59),(72.63,20.85),(72.56,19.28),(72.69,19.23),(72.75,19.28),(72.73,16.23),(72.75,17.8),(72.88,14.94),(73.06,14.98),(72.94,20.48),(73.04,21.5),(73.06,19.84),(73.19,19.65),(73.13,18.45),(73.25,18.54),(73.31,18.27),(73.16,11.95),(73.5,11.95),(73.19,17.9),(73.31,17.71),(73.25,22.15),(73.38,22.11),(73.31,19.1),(73.44,19.19),(73.56,19.0),(73.69,19.1),(73.38,20.02),(73.44,19.74),(73.41,15.4),(73.44,21.13),(73.5,18.82),(73.63,18.63),(73.44,17.53),(73.63,17.49),(73.81,17.49),(73.75,19.1),(73.88,17.06),(73.94,20.11),(74.0,22.15),(74.06,22.24),(73.97,18.17),(74.13,18.27),(74.0,23.44),(74.1,21.26),(74.13,18.73),(74.25,18.54),(74.13,16.69),(74.14,15.12),(74.19,19.28),(74.31,19.37),(74.21,21.87),(74.29,22.85),(74.25,17.8),(74.38,17.9),(74.31,20.11),(74.38,20.85),(74.5,19.5),(74.63,19.52),(74.38,16.38),(74.56,17.25),(74.69,17.06),(74.56,18.49),(74.69,18.27),(74.59,20.11),(74.79,21.96),(74.84,16.56),(74.85,23.2),(75.19,23.47),(75.0,17.84),(75.04,22.46),(75.13,19.23),(75.13,16.69),(75.29,16.69),(75.13,15.01),(75.1,14.05),(75.19,20.11),(75.31,20.11),(75.31,20.85),(75.41,19.69),(75.47,19.65),(75.44,18.63),(75.56,18.82),(75.5,17.9),(75.56,17.53),(75.5,16.88),(75.56,16.97),(75.56,15.64),(75.69,18.91),(75.78,16.32),(75.81,15.31),(75.88,20.02),(75.94,19.56),(76.0,17.16),(76.06,17.2),(76.13,15.12),(76.25,19.13),(76.31,16.14),(76.34,14.76),(76.5,17.49),
]
ageing_lower_fit = [(60.87,19.9),(61.8,19.78),(62.7,19.65),(63.8,19.53),(64.9,19.42),(66.3,19.28),(67.7,19.15),(68.8,19.12),(69.8,19.1),(70.6,19.08),(71.4,19.05),(72.3,18.9),(73.25,18.72),(74.2,18.56),(75.1,18.4),(75.9,18.17),(76.56,17.9)]

young_x_ticks = [20, 22, 24, 26, 28, 30]
ageing_x_ticks = [60, 65, 70, 75, 80]
total_young_y_ticks = [40, 50, 60, 70, 80, 90]
total_ageing_y_ticks = [40, 50, 60, 70, 80]
lower_young_y_ticks = [15, 20, 25, 30, 35]
lower_young_grid = [15, 20, 25, 30]
lower_ageing_y_ticks = [10, 15, 20, 25, 30]
lower_ageing_grid = [10, 15, 20, 25]

caption_total = "Total body lean mass (kg) (A: young. B: ageing)"
caption_lower = "Lower extremity lean mass (kg)"

# ---------------- styling ----------------
NAVY = "#1a476f"
MAROON = "#90353b"
BG = "#e8eff2"
GRID = "#e8eff2"
SERIF = "Liberation Serif"
SANS = "Liberation Sans"


def panel(points, fit, xdom, ydom, xticks, yticks, gridvals, x0, plot_w, h,
          box, texts, anchor=False):
    """x0: left inset of the plot area inside the panel's layout cell."""
    pts = pd.DataFrame(points, columns=["age", "mass"])
    fit_df = pd.DataFrame(fit, columns=["age", "mass"])
    grid_df = pd.DataFrame({"mass": gridvals})
    one = pd.DataFrame({"k": [0]})
    xs = alt.Scale(domain=xdom, range=[x0, x0 + plot_w], nice=False, zero=False)
    ys = alt.Scale(domain=ydom, nice=False, zero=False)
    xax = alt.Axis(values=xticks, title="Age (years)", grid=False, labelPadding=6,
                   titlePadding=0, zindex=2, labelFlush=False, labelOverlap=False)
    yax_kw = dict(values=yticks, title=None, grid=False, labelAngle=270,
                  labelAlign="center", labelBaseline="alphabetic", labelPadding=20,
                  zindex=2, labelFlush=False, labelOverlap=False)
    if x0:
        yax_kw["offset"] = -x0
    yax = alt.Axis(**yax_kw)
    X = alt.X("age:Q", scale=xs, axis=xax)
    Y = alt.Y("mass:Q", scale=ys, axis=yax)
    bx0, bx1, by0, by1 = box
    layers = [
        alt.Chart(one).mark_rect(color=BG).encode(
            x=alt.value(x0 + bx0), x2=alt.value(x0 + bx1),
            y=alt.value(by0), y2=alt.value(by1)),
        alt.Chart(one).mark_rect(color="white").encode(
            x=alt.value(x0), x2=alt.value(x0 + plot_w), y=alt.value(0), y2=alt.value(h)),
        alt.Chart(grid_df).mark_rule(color=GRID, strokeWidth=1.6).encode(
            y=Y, x=alt.value(x0), x2=alt.value(x0 + plot_w)),
        alt.Chart(pts).mark_circle(size=62, color=NAVY, opacity=1).encode(x=X, y=Y),
        alt.Chart(fit_df).mark_line(color=MAROON, strokeWidth=1.5,
                                    interpolate="monotone").encode(x=X, y=Y),
    ]
    for (t, tx, ty, size, align) in texts:
        layers.append(
            alt.Chart(one).mark_text(text=t, font=SERIF, fontSize=size, align=align,
                                     baseline="alphabetic", color="black").encode(
                x=alt.value(tx), y=alt.value(ty)))
    if anchor:
        layers.append(alt.Chart(one).mark_rect(color="white").encode(
            x=alt.value(-69), x2=alt.value(-68), y=alt.value(-62), y2=alt.value(-61)))
    return alt.layer(*layers).properties(width=x0 + plot_w, height=h)


# panels are kept narrower than the window's content box (1299 px) so that the
# page never shrinks the drawing
top_a = panel(young_total, young_total_fit, [19.227, 31.137], [38.72, 92.59],
              young_x_ticks, total_young_y_ticks, total_young_y_ticks,
              0, 555, 380, (-63, 571, -15, 444),
              [("A", -69, -38, 29, "left"), (caption_total, 567, 490, 32, "center")],
              anchor=True)
top_b = panel(ageing_total, ageing_total_fit, [59.626, 80.374], [38.77, 81.19],
              ageing_x_ticks, total_ageing_y_ticks, total_ageing_y_ticks,
              9, 554, 380, (-64, 558, -15, 444),
              [("B", 2, -38, 29, "left")])
bot_a = panel(young_lower, young_lower_fit, [19.227, 31.137], [12.83, 35.6],
              young_x_ticks, lower_young_y_ticks, lower_young_grid,
              0, 555, 381, (-63, 571, -16, 443),
              [("A", -69, -37, 29, "left"), (caption_lower, 583.5, 486, 32, "center")])
bot_b = panel(ageing_lower, ageing_lower_fit, [59.625, 80.41], [9.43, 30.55],
              ageing_x_ticks, lower_ageing_y_ticks, lower_ageing_grid,
              0, 555, 381, (-63, 567, -16, 443),
              [("B", 2, -37, 29, "left")])

chart = alt.concat(top_a, top_b, bot_a, bot_b, columns=2).properties(
    bounds="flush", align="none",
    spacing=alt.RowColnumber(row=205, column=106), padding=0,
).configure_view(stroke="transparent").configure_axis(
    domainColor="black", domainWidth=2, tickColor="black", tickWidth=2, tickSize=7,
    labelFont=SANS, labelFontSize=16, labelColor="black",
    titleFont=SANS, titleFontSize=16, titleFontWeight="normal", titleColor="black",
)

chart.save("out.html", embed_options={"renderer": "svg", "actions": False})
